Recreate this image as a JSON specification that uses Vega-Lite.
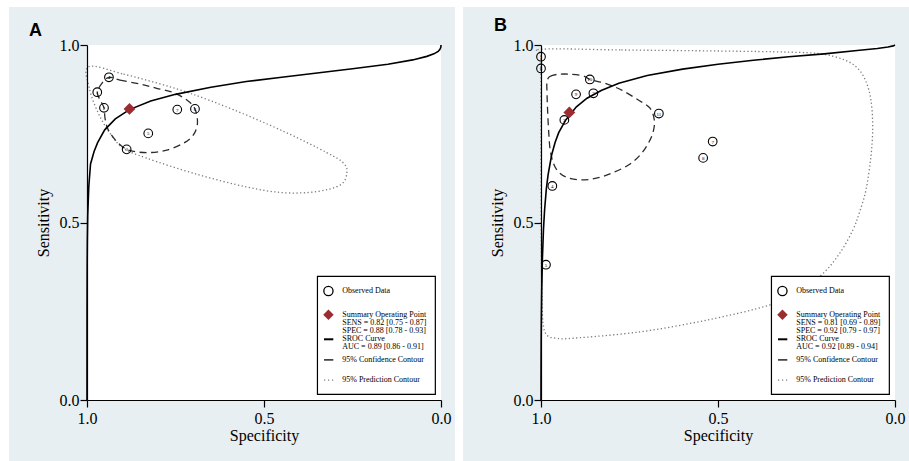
{
  "$schema": "https://vega.github.io/schema/vega-lite/v6.json",
  "padding": {"left": 9, "top": 7, "right": 0, "bottom": 0},
  "background": "white",
  "spacing": 8,
  "config": {
    "view": {"stroke": null},
    "axis": {"grid": false, "domainColor": "black", "domainWidth": 1.2, "tickColor": "black", "tickWidth": 1.2, "tickSize": 7, "labelFont": "Liberation Serif, Times New Roman, serif", "labelFontSize": 16, "labelColor": "black", "titleFont": "Liberation Serif, Times New Roman, serif", "titleFontSize": 16, "titleFontWeight": "normal", "titleColor": "black", "zindex": 1, "labelFlush": false, "labelOverlap": false},
    "axisX": {"labelPadding": 3, "titlePadding": 1},
    "axisY": {"labelPadding": 1, "titlePadding": 8, "labelAngle": 0},
    "text": {"font": "Liberation Serif, Times New Roman, serif", "color": "black"}
  },
  "datasets": {
    "ptsA": [
      {"spec": 0.971, "sens": 0.867, "id": "1"},
      {"spec": 0.952, "sens": 0.823, "id": "2"},
      {"spec": 0.938, "sens": 0.909, "id": "4"},
      {"spec": 0.888, "sens": 0.706, "id": "3"},
      {"spec": 0.827, "sens": 0.751, "id": "5"},
      {"spec": 0.745, "sens": 0.818, "id": "7"},
      {"spec": 0.695, "sens": 0.820, "id": "6"}
    ],
    "sumA": [{"spec": 0.88, "sens": 0.82}],
    "srocA": [
      {"i": 0, "spec": 1.0, "sens": 0.0},
      {"i": 1, "spec": 0.9999, "sens": 0.25},
      {"i": 2, "spec": 0.9995, "sens": 0.38},
      {"i": 3, "spec": 0.999, "sens": 0.45},
      {"i": 4, "spec": 0.998, "sens": 0.52},
      {"i": 5, "spec": 0.995, "sens": 0.60},
      {"i": 6, "spec": 0.99, "sens": 0.665},
      {"i": 7, "spec": 0.98, "sens": 0.70},
      {"i": 8, "spec": 0.97, "sens": 0.725},
      {"i": 9, "spec": 0.95, "sens": 0.761},
      {"i": 10, "spec": 0.92, "sens": 0.792},
      {"i": 11, "spec": 0.88, "sens": 0.818},
      {"i": 12, "spec": 0.82, "sens": 0.842},
      {"i": 13, "spec": 0.75, "sens": 0.861},
      {"i": 14, "spec": 0.65, "sens": 0.881},
      {"i": 15, "spec": 0.55, "sens": 0.897},
      {"i": 16, "spec": 0.45, "sens": 0.909},
      {"i": 17, "spec": 0.35, "sens": 0.921},
      {"i": 18, "spec": 0.25, "sens": 0.933},
      {"i": 19, "spec": 0.15, "sens": 0.946},
      {"i": 20, "spec": 0.08, "sens": 0.958},
      {"i": 21, "spec": 0.04, "sens": 0.968},
      {"i": 22, "spec": 0.02, "sens": 0.975},
      {"i": 23, "spec": 0.008, "sens": 0.982},
      {"i": 24, "spec": 0.003, "sens": 0.988},
      {"i": 25, "spec": 0.0005, "sens": 0.9936},
      {"i": 26, "spec": 0.0, "sens": 1.0}
    ],
    "ciA": [
      {"i": 0, "spec": 0.938, "sens": 0.909},
      {"i": 1, "spec": 0.907, "sens": 0.901},
      {"i": 2, "spec": 0.850, "sens": 0.890},
      {"i": 3, "spec": 0.803, "sens": 0.878},
      {"i": 4, "spec": 0.756, "sens": 0.866},
      {"i": 5, "spec": 0.718, "sens": 0.845},
      {"i": 6, "spec": 0.695, "sens": 0.820},
      {"i": 7, "spec": 0.688, "sens": 0.779},
      {"i": 8, "spec": 0.700, "sens": 0.746},
      {"i": 9, "spec": 0.728, "sens": 0.723},
      {"i": 10, "spec": 0.775, "sens": 0.704},
      {"i": 11, "spec": 0.822, "sens": 0.697},
      {"i": 12, "spec": 0.860, "sens": 0.699},
      {"i": 13, "spec": 0.888, "sens": 0.706},
      {"i": 14, "spec": 0.916, "sens": 0.728},
      {"i": 15, "spec": 0.940, "sens": 0.761},
      {"i": 16, "spec": 0.949, "sens": 0.793},
      {"i": 17, "spec": 0.952, "sens": 0.823},
      {"i": 18, "spec": 0.963, "sens": 0.845},
      {"i": 19, "spec": 0.971, "sens": 0.867},
      {"i": 20, "spec": 0.958, "sens": 0.892}
    ],
    "piA": [
      {"i": 0, "spec": 0.996, "sens": 0.939},
      {"i": 1, "spec": 0.897, "sens": 0.918},
      {"i": 2, "spec": 0.803, "sens": 0.893},
      {"i": 3, "spec": 0.709, "sens": 0.864},
      {"i": 4, "spec": 0.587, "sens": 0.818},
      {"i": 5, "spec": 0.445, "sens": 0.757},
      {"i": 6, "spec": 0.323, "sens": 0.697},
      {"i": 7, "spec": 0.275, "sens": 0.667},
      {"i": 8, "spec": 0.266, "sens": 0.639},
      {"i": 9, "spec": 0.284, "sens": 0.606},
      {"i": 10, "spec": 0.351, "sens": 0.587},
      {"i": 11, "spec": 0.445, "sens": 0.584},
      {"i": 12, "spec": 0.549, "sens": 0.600},
      {"i": 13, "spec": 0.690, "sens": 0.636},
      {"i": 14, "spec": 0.831, "sens": 0.681},
      {"i": 15, "spec": 0.897, "sens": 0.709},
      {"i": 16, "spec": 0.935, "sens": 0.751},
      {"i": 17, "spec": 0.968, "sens": 0.808},
      {"i": 18, "spec": 0.992, "sens": 0.873}
    ],
    "ptsB": [
      {"spec": 1.0, "sens": 0.967, "id": "1"},
      {"spec": 1.0, "sens": 0.934, "id": "6"},
      {"spec": 0.862, "sens": 0.903, "id": "10"},
      {"spec": 0.901, "sens": 0.861, "id": "9"},
      {"spec": 0.852, "sens": 0.864, "id": "2"},
      {"spec": 0.934, "sens": 0.789, "id": "3"},
      {"spec": 0.667, "sens": 0.807, "id": "11"},
      {"spec": 0.515, "sens": 0.728, "id": "7"},
      {"spec": 0.542, "sens": 0.682, "id": "8"},
      {"spec": 0.968, "sens": 0.603, "id": "4"},
      {"spec": 0.986, "sens": 0.381, "id": "5"}
    ],
    "sumB": [{"spec": 0.92, "sens": 0.81}],
    "srocB": [
      {"i": 0, "spec": 1.0, "sens": 0.0},
      {"i": 1, "spec": 0.9999, "sens": 0.069},
      {"i": 2, "spec": 0.9995, "sens": 0.161},
      {"i": 3, "spec": 0.999, "sens": 0.225},
      {"i": 4, "spec": 0.998, "sens": 0.306},
      {"i": 5, "spec": 0.996, "sens": 0.399},
      {"i": 6, "spec": 0.993, "sens": 0.481},
      {"i": 7, "spec": 0.99, "sens": 0.533},
      {"i": 8, "spec": 0.985, "sens": 0.594},
      {"i": 9, "spec": 0.98, "sens": 0.634},
      {"i": 10, "spec": 0.97, "sens": 0.690},
      {"i": 11, "spec": 0.96, "sens": 0.726},
      {"i": 12, "spec": 0.95, "sens": 0.753},
      {"i": 13, "spec": 0.93, "sens": 0.789},
      {"i": 14, "spec": 0.90, "sens": 0.826},
      {"i": 15, "spec": 0.87, "sens": 0.850},
      {"i": 16, "spec": 0.83, "sens": 0.872},
      {"i": 17, "spec": 0.78, "sens": 0.892},
      {"i": 18, "spec": 0.70, "sens": 0.914},
      {"i": 19, "spec": 0.60, "sens": 0.932},
      {"i": 20, "spec": 0.50, "sens": 0.946},
      {"i": 21, "spec": 0.40, "sens": 0.957},
      {"i": 22, "spec": 0.30, "sens": 0.967},
      {"i": 23, "spec": 0.20, "sens": 0.975},
      {"i": 24, "spec": 0.10, "sens": 0.985},
      {"i": 25, "spec": 0.05, "sens": 0.990},
      {"i": 26, "spec": 0.02, "sens": 0.9943},
      {"i": 27, "spec": 0.005, "sens": 0.9975},
      {"i": 28, "spec": 0.0, "sens": 1.0}
    ],
    "ciB": [
      {"i": 0, "spec": 0.983, "sens": 0.897},
      {"i": 1, "spec": 0.975, "sens": 0.911},
      {"i": 2, "spec": 0.956, "sens": 0.917},
      {"i": 3, "spec": 0.923, "sens": 0.918},
      {"i": 4, "spec": 0.881, "sens": 0.913},
      {"i": 5, "spec": 0.862, "sens": 0.903},
      {"i": 6, "spec": 0.819, "sens": 0.892},
      {"i": 7, "spec": 0.772, "sens": 0.873},
      {"i": 8, "spec": 0.725, "sens": 0.845},
      {"i": 9, "spec": 0.692, "sens": 0.822},
      {"i": 10, "spec": 0.680, "sens": 0.789},
      {"i": 11, "spec": 0.683, "sens": 0.756},
      {"i": 12, "spec": 0.697, "sens": 0.723},
      {"i": 13, "spec": 0.720, "sens": 0.690},
      {"i": 14, "spec": 0.753, "sens": 0.662},
      {"i": 15, "spec": 0.800, "sens": 0.639},
      {"i": 16, "spec": 0.847, "sens": 0.624},
      {"i": 17, "spec": 0.890, "sens": 0.620},
      {"i": 18, "spec": 0.927, "sens": 0.627},
      {"i": 19, "spec": 0.951, "sens": 0.643},
      {"i": 20, "spec": 0.965, "sens": 0.667},
      {"i": 21, "spec": 0.974, "sens": 0.704},
      {"i": 22, "spec": 0.978, "sens": 0.751},
      {"i": 23, "spec": 0.981, "sens": 0.808},
      {"i": 24, "spec": 0.983, "sens": 0.864}
    ],
    "piB": [
      {"i": 0, "spec": 0.998, "sens": 0.988},
      {"i": 1, "spec": 0.773, "sens": 0.986},
      {"i": 2, "spec": 0.491, "sens": 0.983},
      {"i": 3, "spec": 0.303, "sens": 0.980},
      {"i": 4, "spec": 0.209, "sens": 0.975},
      {"i": 5, "spec": 0.143, "sens": 0.958},
      {"i": 6, "spec": 0.105, "sens": 0.934},
      {"i": 7, "spec": 0.082, "sens": 0.897},
      {"i": 8, "spec": 0.068, "sens": 0.845},
      {"i": 9, "spec": 0.063, "sens": 0.770},
      {"i": 10, "spec": 0.068, "sens": 0.686},
      {"i": 11, "spec": 0.082, "sens": 0.592},
      {"i": 12, "spec": 0.100, "sens": 0.530},
      {"i": 13, "spec": 0.119, "sens": 0.479},
      {"i": 14, "spec": 0.155, "sens": 0.415},
      {"i": 15, "spec": 0.203, "sens": 0.357},
      {"i": 16, "spec": 0.270, "sens": 0.310},
      {"i": 17, "spec": 0.353, "sens": 0.268},
      {"i": 18, "spec": 0.532, "sens": 0.225},
      {"i": 19, "spec": 0.720, "sens": 0.192},
      {"i": 20, "spec": 0.909, "sens": 0.174},
      {"i": 21, "spec": 0.956, "sens": 0.174},
      {"i": 22, "spec": 0.984, "sens": 0.183},
      {"i": 23, "spec": 0.994, "sens": 0.216},
      {"i": 24, "spec": 0.997, "sens": 0.282},
      {"i": 25, "spec": 0.999, "sens": 0.423},
      {"i": 26, "spec": 1.0, "sens": 0.658},
      {"i": 27, "spec": 1.0, "sens": 0.845},
      {"i": 28, "spec": 1.0, "sens": 0.967}
    ]
  },
  "hconcat": [
    {
      "width": 354,
      "height": 355,
      "layer": [
        {"data": {"values": [{}]}, "mark": {"type": "rect", "fill": "#e8eff2"}, "encoding": {"x": {"datum": 1.2203, "type": "quantitative", "title": "Specificity", "scale": {"domain": [0, 1], "reverse": true, "nice": false, "zero": false}, "axis": {"values": [0, 0.5, 1], "format": ".1f", "zindex": 2}}, "x2": {"datum": -0.0395}, "y": {"datum": -0.175, "type": "quantitative", "title": "Sensitivity", "scale": {"domain": [0, 1], "nice": false, "zero": false}, "axis": {"values": [0, 0.5, 1], "format": ".1f", "zindex": 2}}, "y2": {"datum": 1.107}}},
        {"data": {"values": [{}]}, "mark": {"type": "rect", "fill": "white"}, "encoding": {"x": {"datum": 1, "type": "quantitative", "title": "Specificity"}, "x2": {"datum": 0}, "y": {"datum": 0, "type": "quantitative", "title": "Sensitivity"}, "y2": {"datum": 1}}},
        {"data": {"values": [{}]}, "mark": {"type": "text", "font": "Liberation Sans", "fontWeight": "bold", "fontSize": 18, "align": "center", "baseline": "middle"}, "encoding": {"x": {"datum": 1.1455, "type": "quantitative", "title": "Specificity"}, "y": {"datum": 1.04, "type": "quantitative", "title": "Sensitivity"}, "text": {"value": "A"}}},
        {"data": {"name": "piA"}, "mark": {"type": "line", "interpolate": "cardinal-closed", "color": "#7d7d7d", "strokeWidth": 1.3, "strokeDash": [1.3, 2.4]}, "encoding": {"x": {"field": "spec", "type": "quantitative", "title": "Specificity"}, "y": {"field": "sens", "type": "quantitative", "title": "Sensitivity"}, "order": {"field": "i", "type": "quantitative"}}},
        {"data": {"name": "ciA"}, "mark": {"type": "line", "interpolate": "cardinal-closed", "color": "#2b2b2b", "strokeWidth": 1.3, "strokeDash": [7, 4.5]}, "encoding": {"x": {"field": "spec", "type": "quantitative", "title": "Specificity"}, "y": {"field": "sens", "type": "quantitative", "title": "Sensitivity"}, "order": {"field": "i", "type": "quantitative"}}},
        {"data": {"name": "srocA"}, "mark": {"type": "line", "color": "black", "strokeWidth": 1.6}, "encoding": {"x": {"field": "spec", "type": "quantitative", "title": "Specificity"}, "y": {"field": "sens", "type": "quantitative", "title": "Sensitivity"}, "order": {"field": "i", "type": "quantitative"}}},
        {"data": {"name": "ptsA"}, "mark": {"type": "point", "shape": "circle", "filled": false, "color": "black", "strokeWidth": 1.1, "size": 75, "opacity": 1}, "encoding": {"x": {"field": "spec", "type": "quantitative", "title": "Specificity"}, "y": {"field": "sens", "type": "quantitative", "title": "Sensitivity"}}},
        {"data": {"name": "ptsA"}, "mark": {"type": "text", "fontSize": 5, "align": "center", "baseline": "middle"}, "encoding": {"x": {"field": "spec", "type": "quantitative", "title": "Specificity"}, "y": {"field": "sens", "type": "quantitative", "title": "Sensitivity"}, "text": {"field": "id"}}},
        {"data": {"name": "sumA"}, "mark": {"type": "point", "shape": "diamond", "filled": true, "color": "#9b2d30", "size": 140, "opacity": 1}, "encoding": {"x": {"field": "spec", "type": "quantitative", "title": "Specificity"}, "y": {"field": "sens", "type": "quantitative", "title": "Sensitivity"}}},
        {"data": {"values": [{}]}, "mark": {"type": "rect", "fill": "white", "stroke": "black", "strokeWidth": 1.2}, "encoding": {"x": {"datum": 0.349, "type": "quantitative", "title": "Specificity"}, "x2": {"datum": 0.016}, "y": {"datum": 0.016, "type": "quantitative", "title": "Sensitivity"}, "y2": {"datum": 0.348}}},
        {"data": {"values": [{}]}, "mark": {"type": "point", "shape": "circle", "filled": false, "color": "black", "strokeWidth": 1.3, "size": 85, "opacity": 1}, "encoding": {"x": {"datum": 0.318, "type": "quantitative", "title": "Specificity"}, "y": {"datum": 0.307, "type": "quantitative", "title": "Sensitivity"}}},
        {"data": {"values": [{}]}, "mark": {"type": "text", "fontSize": 8, "align": "left", "baseline": "middle"}, "encoding": {"x": {"datum": 0.279, "type": "quantitative", "title": "Specificity"}, "y": {"datum": 0.307, "type": "quantitative", "title": "Sensitivity"}, "text": {"value": "Observed Data"}}},
        {"data": {"values": [{}]}, "mark": {"type": "point", "shape": "diamond", "filled": true, "color": "#9b2d30", "size": 110, "opacity": 1}, "encoding": {"x": {"datum": 0.318, "type": "quantitative", "title": "Specificity"}, "y": {"datum": 0.240, "type": "quantitative", "title": "Sensitivity"}}},
        {"data": {"values": [{}]}, "mark": {"type": "text", "fontSize": 8, "lineHeight": 7.8, "align": "left", "baseline": "middle"}, "encoding": {"x": {"datum": 0.279, "type": "quantitative", "title": "Specificity"}, "y": {"datum": 0.239, "type": "quantitative", "title": "Sensitivity"}, "text": {"value": ["Summary Operating Point", "SENS = 0.82 [0.75 - 0.87]", "SPEC = 0.88 [0.78 - 0.93]"]}}},
        {"data": {"values": [{}]}, "mark": {"type": "rule", "color": "black", "strokeWidth": 2}, "encoding": {"x": {"datum": 0.3305, "type": "quantitative", "title": "Specificity"}, "x2": {"datum": 0.3042}, "y": {"datum": 0.171, "type": "quantitative", "title": "Sensitivity"}}},
        {"data": {"values": [{}]}, "mark": {"type": "text", "fontSize": 8, "lineHeight": 7.8, "align": "left", "baseline": "middle"}, "encoding": {"x": {"datum": 0.279, "type": "quantitative", "title": "Specificity"}, "y": {"datum": 0.171, "type": "quantitative", "title": "Sensitivity"}, "text": {"value": ["SROC Curve", "AUC = 0.89 [0.86 - 0.91]"]}}},
        {"data": {"values": [{}]}, "mark": {"type": "rule", "color": "#333333", "strokeWidth": 1.6}, "encoding": {"x": {"datum": 0.3305, "type": "quantitative", "title": "Specificity"}, "x2": {"datum": 0.3042}, "y": {"datum": 0.113, "type": "quantitative", "title": "Sensitivity"}}},
        {"data": {"values": [{}]}, "mark": {"type": "text", "fontSize": 8, "align": "left", "baseline": "middle"}, "encoding": {"x": {"datum": 0.279, "type": "quantitative", "title": "Specificity"}, "y": {"datum": 0.113, "type": "quantitative", "title": "Sensitivity"}, "text": {"value": "95% Confidence Contour"}}},
        {"data": {"values": [{}]}, "mark": {"type": "rule", "color": "#7d7d7d", "strokeWidth": 1.2, "strokeDash": [1.2, 2.8]}, "encoding": {"x": {"datum": 0.3305, "type": "quantitative", "title": "Specificity"}, "x2": {"datum": 0.3042}, "y": {"datum": 0.056, "type": "quantitative", "title": "Sensitivity"}}},
        {"data": {"values": [{}]}, "mark": {"type": "text", "fontSize": 8, "align": "left", "baseline": "middle"}, "encoding": {"x": {"datum": 0.279, "type": "quantitative", "title": "Specificity"}, "y": {"datum": 0.056, "type": "quantitative", "title": "Sensitivity"}, "text": {"value": "95% Prediction Contour"}}}
      ]
    },
    {
      "width": 354,
      "height": 355,
      "layer": [
        {"data": {"values": [{}]}, "mark": {"type": "rect", "fill": "#e8eff2"}, "encoding": {"x": {"datum": 1.2203, "type": "quantitative", "title": "Specificity", "scale": {"domain": [0, 1], "reverse": true, "nice": false, "zero": false}, "axis": {"values": [0, 0.5, 1], "format": ".1f", "zindex": 2}}, "x2": {"datum": -0.04}, "y": {"datum": -0.175, "type": "quantitative", "title": "Sensitivity", "scale": {"domain": [0, 1], "nice": false, "zero": false}, "axis": {"values": [0, 0.5, 1], "format": ".1f", "zindex": 2}}, "y2": {"datum": 1.107}}},
        {"data": {"values": [{}]}, "mark": {"type": "rect", "fill": "white"}, "encoding": {"x": {"datum": 1, "type": "quantitative", "title": "Specificity"}, "x2": {"datum": 0}, "y": {"datum": 0, "type": "quantitative", "title": "Sensitivity"}, "y2": {"datum": 1}}},
        {"data": {"values": [{}]}, "mark": {"type": "text", "font": "Liberation Sans", "fontWeight": "bold", "fontSize": 18, "align": "center", "baseline": "middle"}, "encoding": {"x": {"datum": 1.1144, "type": "quantitative", "title": "Specificity"}, "y": {"datum": 1.053, "type": "quantitative", "title": "Sensitivity"}, "text": {"value": "B"}}},
        {"data": {"name": "piB"}, "mark": {"type": "line", "interpolate": "cardinal-closed", "color": "#7d7d7d", "strokeWidth": 1.3, "strokeDash": [1.3, 2.4]}, "encoding": {"x": {"field": "spec", "type": "quantitative", "title": "Specificity"}, "y": {"field": "sens", "type": "quantitative", "title": "Sensitivity"}, "order": {"field": "i", "type": "quantitative"}}},
        {"data": {"name": "ciB"}, "mark": {"type": "line", "interpolate": "cardinal-closed", "color": "#2b2b2b", "strokeWidth": 1.3, "strokeDash": [7, 4.5]}, "encoding": {"x": {"field": "spec", "type": "quantitative", "title": "Specificity"}, "y": {"field": "sens", "type": "quantitative", "title": "Sensitivity"}, "order": {"field": "i", "type": "quantitative"}}},
        {"data": {"name": "srocB"}, "mark": {"type": "line", "color": "black", "strokeWidth": 1.6}, "encoding": {"x": {"field": "spec", "type": "quantitative", "title": "Specificity"}, "y": {"field": "sens", "type": "quantitative", "title": "Sensitivity"}, "order": {"field": "i", "type": "quantitative"}}},
        {"data": {"name": "ptsB"}, "mark": {"type": "point", "shape": "circle", "filled": false, "color": "black", "strokeWidth": 1.1, "size": 75, "opacity": 1}, "encoding": {"x": {"field": "spec", "type": "quantitative", "title": "Specificity"}, "y": {"field": "sens", "type": "quantitative", "title": "Sensitivity"}}},
        {"data": {"name": "ptsB"}, "mark": {"type": "text", "fontSize": 5, "align": "center", "baseline": "middle"}, "encoding": {"x": {"field": "spec", "type": "quantitative", "title": "Specificity"}, "y": {"field": "sens", "type": "quantitative", "title": "Sensitivity"}, "text": {"field": "id"}}},
        {"data": {"name": "sumB"}, "mark": {"type": "point", "shape": "diamond", "filled": true, "color": "#9b2d30", "size": 140, "opacity": 1}, "encoding": {"x": {"field": "spec", "type": "quantitative", "title": "Specificity"}, "y": {"field": "sens", "type": "quantitative", "title": "Sensitivity"}}},
        {"data": {"values": [{}]}, "mark": {"type": "rect", "fill": "white", "stroke": "black", "strokeWidth": 1.2}, "encoding": {"x": {"datum": 0.349, "type": "quantitative", "title": "Specificity"}, "x2": {"datum": 0.016}, "y": {"datum": 0.016, "type": "quantitative", "title": "Sensitivity"}, "y2": {"datum": 0.348}}},
        {"data": {"values": [{}]}, "mark": {"type": "point", "shape": "circle", "filled": false, "color": "black", "strokeWidth": 1.3, "size": 85, "opacity": 1}, "encoding": {"x": {"datum": 0.318, "type": "quantitative", "title": "Specificity"}, "y": {"datum": 0.307, "type": "quantitative", "title": "Sensitivity"}}},
        {"data": {"values": [{}]}, "mark": {"type": "text", "fontSize": 8, "align": "left", "baseline": "middle"}, "encoding": {"x": {"datum": 0.279, "type": "quantitative", "title": "Specificity"}, "y": {"datum": 0.307, "type": "quantitative", "title": "Sensitivity"}, "text": {"value": "Observed Data"}}},
        {"data": {"values": [{}]}, "mark": {"type": "point", "shape": "diamond", "filled": true, "color": "#9b2d30", "size": 110, "opacity": 1}, "encoding": {"x": {"datum": 0.318, "type": "quantitative", "title": "Specificity"}, "y": {"datum": 0.240, "type": "quantitative", "title": "Sensitivity"}}},
        {"data": {"values": [{}]}, "mark": {"type": "text", "fontSize": 8, "lineHeight": 7.8, "align": "left", "baseline": "middle"}, "encoding": {"x": {"datum": 0.279, "type": "quantitative", "title": "Specificity"}, "y": {"datum": 0.239, "type": "quantitative", "title": "Sensitivity"}, "text": {"value": ["Summary Operating Point", "SENS = 0.81 [0.69 - 0.89]", "SPEC = 0.92 [0.79 - 0.97]"]}}},
        {"data": {"values": [{}]}, "mark": {"type": "rule", "color": "black", "strokeWidth": 2}, "encoding": {"x": {"datum": 0.3305, "type": "quantitative", "title": "Specificity"}, "x2": {"datum": 0.3042}, "y": {"datum": 0.171, "type": "quantitative", "title": "Sensitivity"}}},
        {"data": {"values": [{}]}, "mark": {"type": "text", "fontSize": 8, "lineHeight": 7.8, "align": "left", "baseline": "middle"}, "encoding": {"x": {"datum": 0.279, "type": "quantitative", "title": "Specificity"}, "y": {"datum": 0.171, "type": "quantitative", "title": "Sensitivity"}, "text": {"value": ["SROC Curve", "AUC = 0.92 [0.89 - 0.94]"]}}},
        {"data": {"values": [{}]}, "mark": {"type": "rule", "color": "#333333", "strokeWidth": 1.6}, "encoding": {"x": {"datum": 0.3305, "type": "quantitative", "title": "Specificity"}, "x2": {"datum": 0.3042}, "y": {"datum": 0.113, "type": "quantitative", "title": "Sensitivity"}}},
        {"data": {"values": [{}]}, "mark": {"type": "text", "fontSize": 8, "align": "left", "baseline": "middle"}, "encoding": {"x": {"datum": 0.279, "type": "quantitative", "title": "Specificity"}, "y": {"datum": 0.113, "type": "quantitative", "title": "Sensitivity"}, "text": {"value": "95% Confidence Contour"}}},
        {"data": {"values": [{}]}, "mark": {"type": "rule", "color": "#7d7d7d", "strokeWidth": 1.2, "strokeDash": [1.2, 2.8]}, "encoding": {"x": {"datum": 0.3305, "type": "quantitative", "title": "Specificity"}, "x2": {"datum": 0.3042}, "y": {"datum": 0.056, "type": "quantitative", "title": "Sensitivity"}}},
        {"data": {"values": [{}]}, "mark": {"type": "text", "fontSize": 8, "align": "left", "baseline": "middle"}, "encoding": {"x": {"datum": 0.279, "type": "quantitative", "title": "Specificity"}, "y": {"datum": 0.056, "type": "quantitative", "title": "Sensitivity"}, "text": {"value": "95% Prediction Contour"}}}
      ]
    }
  ]
}
